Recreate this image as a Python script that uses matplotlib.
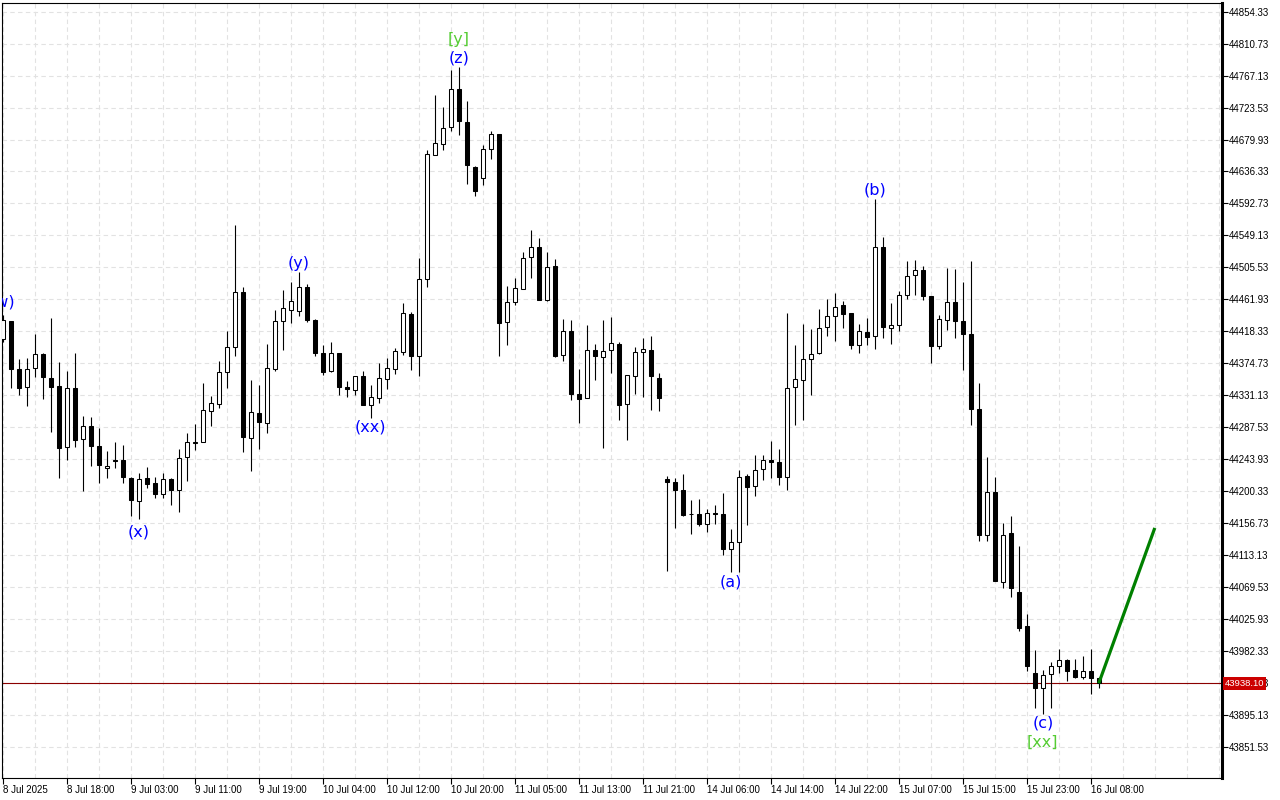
import matplotlib
matplotlib.use("Agg")
import matplotlib.pyplot as plt
import matplotlib.transforms as mtransforms
import numpy as np

# hourly candles, 8 Jul 2025 ... 16 Jul 2025 (open, high, low, close)
opens = [44408.0, 44432.5, 44366.2, 44342.6, 44367.9, 44387.6, 44354.9, 44344.0, 44260.9, 44341.2,
         44271.8, 44288.5, 44261.3, 44232.2, 44243.1, 44243.1, 44218.6, 44186.7, 44217.7, 44211.8,
         44196.3, 44217.3, 44201.7, 44247.2, 44266.3, 44267.7, 44309.9, 44319.4, 44363.0, 44397.1,
         44472.0, 44273.1, 44307.2, 44293.6, 44367.1, 44432.5, 44447.0, 44445.6, 44478.9, 44434.3,
         44388.9, 44364.4, 44388.9, 44341.6, 44338.5, 44357.6, 44318.1, 44327.6, 44353.5, 44367.5,
         44390.3, 44441.5, 44384.8, 44489.8, 44658.7, 44673.7, 44696.9, 44748.6, 44703.7, 44642.4,
         44627.4, 44666.9, 44687.3, 44431.2, 44458.4, 44476.1, 44519.7, 44533.4, 44460.6, 44507.9,
         44386.2, 44418.9, 44333.1, 44327.6, 44393.0, 44383.5, 44393.0, 44401.6, 44319.4, 44357.6,
         44390.3, 44393.0, 44354.9, 44216.3, 44213.2, 44202.3, 44169.0, 44169.6, 44155.9, 44170.4,
         44169.6, 44121.9, 44130.9, 44221.3, 44207.7, 44230.9, 44243.1, 44240.4, 44220.0, 44342.6,
         44351.2, 44379.8, 44388.0, 44424.4, 44439.3, 44453.8, 44443.4, 44398.9, 44417.5, 44412.5,
         44533.4, 44423.0, 44427.1, 44468.0, 44495.2, 44502.0, 44466.6, 44398.5, 44433.9, 44458.8,
         44432.9, 44414.8, 44312.6, 44140.4, 44198.6, 44075.6, 44142.7, 44062.3, 44015.6, 43952.0,
         43931.1, 43950.2, 43961.1, 43969.3, 43956.1, 43946.9, 43954.3, 43944.8]
highs = [44440.0, 44433.0, 44379.8, 44381.2, 44415.2, 44388.0, 44436.6, 44376.7, 44363.5, 44388.0,
         44303.1, 44300.8, 44286.7, 44255.4, 44267.7, 44263.6, 44219.0, 44224.5, 44233.6, 44219.0,
         44224.5, 44217.5, 44258.1, 44279.0, 44291.2, 44347.1, 44329.4, 44378.4, 44418.9, 44563.7,
         44479.3, 44351.2, 44344.4, 44401.6, 44447.0, 44475.2, 44485.1, 44498.8, 44483.4, 44434.5,
         44399.8, 44403.9, 44389.0, 44349.8, 44357.8, 44363.9, 44345.3, 44374.8, 44382.5, 44395.2,
         44457.1, 44444.3, 44518.4, 44665.0, 44740.9, 44724.5, 44774.9, 44778.6, 44732.3, 44644.1,
         44672.7, 44690.9, 44687.5, 44480.6, 44491.1, 44526.0, 44556.0, 44545.6, 44526.0, 44517.0,
         44435.3, 44434.3, 44367.1, 44427.1, 44401.6, 44434.3, 44438.0, 44404.3, 44359.2, 44397.1,
         44409.8, 44412.5, 44361.7, 44221.3, 44218.1, 44223.1, 44187.7, 44189.0, 44175.4, 44181.8,
         44197.2, 44148.2, 44229.5, 44223.1, 44249.0, 44249.0, 44268.1, 44257.2, 44443.4, 44398.9,
         44428.4, 44421.6, 44448.9, 44462.9, 44470.7, 44460.2, 44443.6, 44428.9, 44437.0, 44598.8,
         44547.0, 44457.1, 44473.4, 44514.3, 44516.1, 44506.9, 44466.8, 44441.1, 44505.2, 44503.8,
         44485.7, 44514.7, 44347.1, 44247.2, 44220.0, 44157.3, 44166.3, 44125.4, 44031.9, 43983.3,
         43956.1, 43966.6, 43984.7, 43971.1, 43971.1, 43974.7, 43984.7, 43946.1]
lows = [44404.3, 44340.7, 44330.8, 44316.2, 44356.2, 44326.3, 44280.8, 44218.1, 44242.6, 44260.9,
        44200.4, 44234.4, 44211.3, 44218.1, 44231.7, 44211.3, 44166.3, 44161.8, 44204.5, 44190.8,
        44190.8, 44180.9, 44171.8, 44214.0, 44256.2, 44267.5, 44288.9, 44313.5, 44340.7, 44384.3,
        44254.0, 44227.6, 44257.6, 44279.9, 44363.9, 44392.5, 44429.8, 44439.8, 44430.6, 44384.3,
        44359.0, 44362.5, 44331.7, 44329.0, 44330.8, 44317.3, 44299.8, 44320.3, 44338.9, 44359.8,
        44386.2, 44365.2, 44357.1, 44478.3, 44658.5, 44665.5, 44690.9, 44686.0, 44619.2, 44602.8,
        44617.3, 44653.3, 44384.3, 44399.3, 44453.8, 44476.0, 44491.1, 44461.0, 44459.8, 44383.5,
        44378.0, 44324.4, 44293.6, 44327.5, 44351.6, 44259.0, 44360.7, 44297.1, 44269.9, 44332.5,
        44329.0, 44310.7, 44309.4, 44091.4, 44150.0, 44166.3, 44141.4, 44152.7, 44144.5, 44155.0,
        44112.8, 44089.2, 44089.2, 44153.6, 44193.5, 44215.3, 44218.1, 44208.5, 44201.7, 44290.3,
        44297.1, 44331.7, 44387.8, 44411.5, 44404.7, 44422.5, 44393.8, 44388.4, 44398.9, 44393.8,
        44408.8, 44400.6, 44418.4, 44462.5, 44467.4, 44460.6, 44374.8, 44393.8, 44420.7, 44408.8,
        44365.2, 44290.3, 44132.2, 44132.2, 44077.5, 44068.2, 44055.9, 44009.2, 43955.1, 43904.7,
        43896.1, 43904.7, 43952.0, 43941.1, 43945.2, 43943.8, 43923.4, 43931.1]
closes = [44433.3, 44367.1, 44340.7, 44367.1, 44387.6, 44355.7, 44342.1, 44259.0, 44341.2, 44269.9,
          44288.5, 44261.7, 44235.8, 44235.0, 44241.8, 44219.4, 44188.1, 44217.3, 44209.9, 44196.3,
          44217.3, 44201.7, 44245.9, 44267.7, 44267.1, 44311.3, 44319.9, 44363.0, 44397.1, 44472.0,
          44273.9, 44308.5, 44294.9, 44368.5, 44432.3, 44450.2, 44459.8, 44478.9, 44433.3, 44388.9,
          44362.5, 44388.9, 44342.6, 44339.9, 44357.6, 44317.5, 44329.0, 44353.9, 44368.5, 44391.7,
          44443.4, 44384.8, 44489.8, 44660.1, 44675.1, 44695.5, 44748.6, 44705.0, 44644.5, 44609.7,
          44666.9, 44687.3, 44429.8, 44458.4, 44477.5, 44517.8, 44533.4, 44461.1, 44506.1, 44384.3,
          44418.9, 44332.5, 44326.3, 44393.0, 44384.3, 44391.7, 44402.5, 44317.5, 44359.0, 44390.3,
          44394.4, 44357.6, 44327.1, 44213.2, 44201.7, 44167.3, 44169.6, 44155.0, 44170.9, 44169.6,
          44121.9, 44131.4, 44219.4, 44206.4, 44229.5, 44242.6, 44240.4, 44220.0, 44340.7, 44353.5,
          44380.2, 44387.6, 44423.0, 44439.3, 44451.6, 44441.5, 44399.3, 44418.9, 44410.7, 44532.8,
          44424.4, 44427.1, 44467.4, 44493.8, 44502.0, 44466.0, 44397.9, 44435.3, 44458.4, 44432.5,
          44414.3, 44312.1, 44140.4, 44199.5, 44077.7, 44141.0, 44068.2, 44013.7, 43961.9, 43931.1,
          43949.2, 43961.1, 43969.3, 43955.1, 43946.9, 43954.3, 43945.6, 43938.1]

time_labels = ["8 Jul 2025", "8 Jul 18:00", "9 Jul 03:00", "9 Jul 11:00", "9 Jul 19:00",
               "10 Jul 04:00", "10 Jul 12:00", "10 Jul 20:00", "11 Jul 05:00", "11 Jul 13:00",
               "11 Jul 21:00", "14 Jul 06:00", "14 Jul 14:00", "14 Jul 22:00", "15 Jul 07:00",
               "15 Jul 15:00", "15 Jul 23:00", "16 Jul 08:00"]

# wave marks: text, bar index, anchored on 'high' or 'low', colour
wave_labels = [("(w)", 0, "high", "blue"), ("(x)", 17, "low", "blue"),
               ("(y)", 37, "high", "blue"), ("(xx)", 46, "low", "blue"),
               ("(z)", 57, "high", "blue"), ("[y]", 57, "high", "#55cc33"),
               ("(a)", 91, "low", "blue"), ("(b)", 109, "high", "blue"),
               ("(c)", 130, "low", "blue"), ("[xx]", 130, "low", "#55cc33")]

last_price = 43938.10
forecast_bars = [137, 144]
forecast_prices = [43938.1, 44150.0]

o = np.array(opens)
h = np.array(highs)
l = np.array(lows)
c = np.array(closes)
idx = np.arange(len(o))
up = c >= o

plt.rcParams['font.family'] = ['Liberation Sans', 'DejaVu Sans']

fig = plt.figure(figsize=(12.8, 8), dpi=100)
ax = fig.add_axes([2 / 1280, 1 - 778.3 / 800, 1220 / 1280, 775.6 / 800])

ax.vlines(idx, l, h, color='black', linewidth=0.8, zorder=2)
body_lo = np.minimum(o, c)
body_h = np.maximum(np.abs(c - o), 0.4)
ax.bar(idx[up], body_h[up], bottom=body_lo[up], width=0.55, color='white',
       edgecolor='black', linewidth=0.75, zorder=3)
ax.bar(idx[~up], body_h[~up], bottom=body_lo[~up], width=0.55, color='black',
       edgecolor='black', linewidth=0.75, zorder=3)

# current price line
ax.axhline(last_price, color='#8b0000', linewidth=0.8, zorder=1)
trans = mtransforms.blended_transform_factory(ax.transAxes, ax.transData)
ax.text(1.0025, last_price, f"{last_price:.2f}", transform=trans, color='white', fontsize=6.8,
        va='center', ha='left', clip_on=False,
        bbox=dict(boxstyle='square,pad=0.2', facecolor='#cc0000', edgecolor='none'))

# forecast arrow
ax.plot(forecast_bars, forecast_prices, color='#008000', linewidth=2.3, zorder=4,
        solid_capstyle='butt')

for text, i, side, col in wave_labels:
    off = 20 if text.startswith("[") else 6.5
    if text in ("(w)", "(x)"):
        off = 9.5
    if side == "high":
        y, dy = h[i], off
    else:
        y, dy = l[i], -off
    ax.annotate(text, (i, y), xytext=(0, dy), textcoords='offset points', ha='center',
                va='center', color=col, fontsize=11.5, family='DejaVu Sans',
                annotation_clip=False, clip_on=True, zorder=5)

ax.set_xlim(-0.1, 152.4)
ax.set_ylim(43808.4, 44866.6)

ax.set_xticks(np.arange(len(time_labels)) * 8)
ax.set_xticklabels(time_labels, ha='left')
ax.set_xticks(np.arange(0, 153, 4), minor=True)
yt = 43851.53 + 43.6 * np.arange(24)
ax.set_yticks(yt)
ax.set_yticklabels([f"{v:.2f}" for v in yt])
ax.yaxis.tick_right()

ax.tick_params(axis='x', which='major', length=4, width=0.8, labelsize=7, pad=1)
ax.tick_params(axis='x', which='minor', length=0)
ax.tick_params(axis='y', length=4, width=0.8, labelsize=7, pad=1)

ax.grid(True, which='both', axis='x', color='#e2e2e2', linestyle=(0, (4, 3)), linewidth=0.8)
ax.grid(True, which='major', axis='y', color='#e2e2e2', linestyle=(0, (4, 3)), linewidth=0.8)
ax.set_axisbelow(True)

for s in ['left', 'top', 'bottom']:
    ax.spines[s].set_linewidth(0.8)
ax.spines['right'].set_linewidth(2.2)

fig.savefig('out.png', dpi=100)
